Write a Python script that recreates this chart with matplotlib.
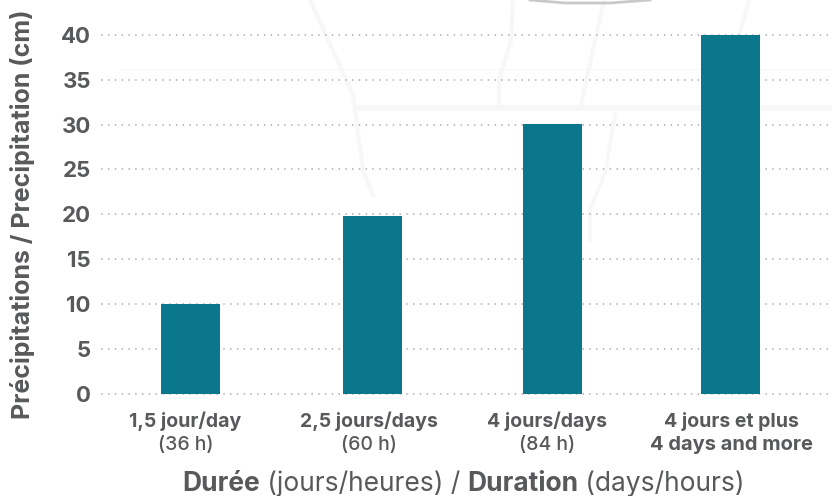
import matplotlib
matplotlib.use('Agg')
from matplotlib import pyplot as plt
from matplotlib.lines import Line2D

plt.rcParams['font.family'] = ['Inter', 'DejaVu Sans']
plt.rcParams['lines.scale_dashes'] = False

# donnees
positions = [-0.005, 1.007, 2.007, 2.995]
label_positions = [-0.03, 0.99, 1.98, 3]
values = [10, 19.8, 30.1, 40]
yticks = [0, 5, 10, 15, 20, 25, 30, 35, 40]
labels_top = ['1,5 jour/day', '2,5 jours/days', '4 jours/days', '4 jours et plus']
labels_bottom = ['(36 h)', '(60 h)', '(84 h)', '4 days and more']
bottom_bold = [False, False, False, True]

W, H = 832, 496
GREY = '#58595b'
TEAL = '#0a778c'

fig = plt.figure(figsize=(W/100, H/100), dpi=100, facecolor='white')

# fond de carte, tres pale
roads = [
    ([310, 353, 363, 373], [0, 95, 170, 195], 3),
    ([358, 830], [108, 108], 4),
    ([513, 511, 499, 499], [0, 40, 80, 105], 3),
    ([604, 581], [0, 105], 3),
    ([616, 606, 590, 590], [108, 170, 210, 240], 2.5),
    ([749, 739], [0, 35], 3),
    ([120, 830], [69, 69], 0.8),
]
for xs, ys, lw in roads:
    fig.add_artist(Line2D([x/W for x in xs], [1-y/H for y in ys],
                          color='#f7f7f7', lw=lw, zorder=0))
fig.add_artist(Line2D([x/W for x in [530, 565, 610, 650]], [1-y/H for y in [0, 3, 3, 0]],
                      color='#c9c9c9', lw=2, zorder=0))

# axe: 102..830 px, y=0 a 393.5 px, y=40 a 35 px
ax = fig.add_axes([102/W, 1-393.5/H, 728/W, 358.5/H])
ax.patch.set_alpha(0)
ax.set_xlim(-89/180, 3+99/180)
ax.set_ylim(0, 40)

ax.bar(positions, values, width=59/180, color=TEAL, zorder=3)
ax.set_yticks(yticks)
ax.set_xticks([])
ax.tick_params(axis='y', length=0, pad=8, labelsize=16, labelcolor=GREY)
for l in ax.get_yticklabels():
    l.set_fontweight('bold')
for s in ax.spines.values():
    s.set_visible(False)

for y in yticks:
    ax.axhline(y, color='#a8a8a8', lw=1.25, dashes=(0.01, 4.87),
               dash_capstyle='round', zorder=1, clip_on=False)

trans = ax.get_xaxis_transform()
for x, top, bot, b in zip(label_positions, labels_top, labels_bottom, bottom_bold):
    ax.annotate(top, xy=(x, 0), xycoords=trans, xytext=(0, -20), textcoords='offset points',
                ha='center', va='center', fontsize=14, fontweight='bold', color=GREY)
    ax.annotate(bot, xy=(x, 0), xycoords=trans, xytext=(0, -37), textcoords='offset points',
                ha='center', va='center', fontsize=14.5 if b else 14, color=GREY,
                fontweight='bold' if b else 'medium')

fig.text(23/W, 1-214/H, 'Précipitations / Precipitation (cm)', rotation=90,
         ha='center', va='center', fontsize=18, fontweight='bold', color=GREY)

# titre x en morceaux gras / normal
parts = [('Durée', 'bold'), (' (jours/heures) / ', 'normal'),
         ('Duration', 'bold'), (' (days/hours)', 'normal')]
prev = fig.text(182/W, 1-497/H, parts[0][0], fontsize=19, fontweight=parts[0][1],
                color=GREY, ha='left', va='bottom')
for txt, w in parts[1:]:
    prev = ax.annotate(txt, xy=(1, 0), xycoords=prev, xytext=(0, 0), textcoords='offset points',
                       fontsize=19, fontweight=w, color=GREY, ha='left', va='bottom',
                       annotation_clip=False)

fig.savefig('out.png', dpi=100)
